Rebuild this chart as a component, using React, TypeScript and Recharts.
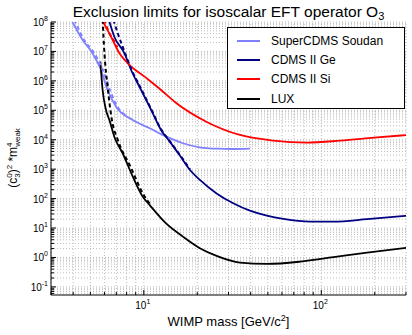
import React from 'react';
import { LineChart, Line, XAxis, YAxis, ReferenceLine } from 'recharts';

// ---- data (WIMP mass in GeV/c^2, limit on (c3^0)^2 * m_weak^4) ----
const superCdmsMass = [3.9, 4.52, 5.14, 5.7, 6.25, 6.98, 8.67, 10.8, 13.4, 16.6, 20.7, 25.7, 31.9, 39.6];
const superCdmsLimit = [1.2e8, 2.45e7, 8.65e6, 2.6e6, 4.9e5, 1.33e5, 4.69e4, 2.45e4, 1.27e4, 7.6e3, 5.5e3, 4.95e3, 4.85e3, 5.0e3];
const superCdmsAltMass = [4.06, 4.61, 5.26, 5.88, 6.44, 7.1, 8.0];
const superCdmsAltLimit = [1.2e8, 2.45e7, 8.65e6, 2.34e6, 4.9e5, 1.33e5, 6.5e4];

const cdmsGeMass = [6.35, 6.82, 7.78, 8.48, 9.66, 11.0, 12.5, 14.0, 16.0, 18.2, 20.7, 25.7, 31.9, 39.6, 49.3, 61.2, 86.6, 117, 181, 305];
const cdmsGeLimit = [1.2e8, 3.16e7, 8.65e6, 2.34e6, 4.9e5, 1.03e5, 2.15e4, 8.6e3, 2.85e3, 940, 430, 150, 69.5, 38.9, 26.3, 20.3, 16.5, 16.5, 19.9, 26.3];
const cdmsGeAltMass = [6.74, 7.13, 7.6, 8.48, 9.66, 11.0, 12.5, 14.0, 16.0, 18.2];
const cdmsGeAltLimit = [1.2e8, 4.13e7, 1.45e7, 2.6e6, 5.3e5, 1.1e5, 2.3e4, 9.0e3, 3.0e3, 980];

const cdmsSiMass = [5.8, 6.54, 7.29, 8.12, 10.1, 12.5, 14.9, 22.5, 34.8, 53.7, 82.9, 128, 198, 305];
const cdmsSiLimit = [1.2e8, 3.16e7, 8.65e6, 3.95e6, 1.39e6, 4.9e5, 1.96e5, 4.1e4, 1.45e4, 9.3e3, 7.95e3, 9.3e3, 1.17e4, 1.45e4];
const cdmsSiAltMass = [6.0, 6.3, 6.7, 7.1];
const cdmsSiAltLimit = [1.2e8, 5.0e7, 2.6e7, 1.4e7];

const luxMass = [5.69, 5.86, 6.12, 6.4, 6.82, 7.6, 8.67, 9.87, 10.8, 13.4, 16.6, 20.7, 25.7, 34.8, 49.3, 76, 117, 181, 305];
const luxLimit = [4.55e6, 4.9e5, 1.03e5, 4.69e4, 1.27e4, 3.47e3, 556, 116, 60, 14, 5.1, 2.06, 1.13, 0.667, 0.602, 0.72, 1.02, 1.46, 2.14];
const luxAltMass = [5.86, 6.0, 6.25, 6.61, 7.14, 8.41, 9.87, 10.8];
const luxAltLimit = [1.2e8, 8.65e6, 6.34e5, 4.69e4, 9.8e3, 1.22e3, 151, 66];

const seriesNames = ['SuperCDMS Soudan', 'CDMS II Ge', 'CDMS II Si', 'LUX'];
const seriesColors = ['#8080ff', '#000080', '#ff0000', '#000000'];

// ---- axes ----
const xDomain = [3, 300];
const yDomain = [0.053, 1e8];
const xTicks = [3, 4, 5, 6, 7, 8, 9, 10, 20, 30, 40, 50, 60, 70, 80, 90, 100, 200, 300];
const xLabelExponents = [1, 2];
const yDecadeExponents = [-2, -1, 0, 1, 2, 3, 4, 5, 6, 7, 8];
const yMultipliers = [1, 2, 3, 4, 5, 6, 7, 8, 9];
const yLabelExponents = [-1, 0, 1, 2, 3, 4, 5, 6, 7, 8];

const yTicks: number[] = [];
yDecadeExponents.forEach((e) =>
  yMultipliers.forEach((m) => {
    const v = m * Math.pow(10, e);
    if (v >= yDomain[0] * 0.999 && v <= yDomain[1] * 1.001) yTicks.push(v);
  })
);

const zip = (xs: number[], ys: number[]) => xs.map((x, i) => ({ x, y: ys[i] }));
const solidData = [
  zip(superCdmsMass, superCdmsLimit),
  zip(cdmsGeMass, cdmsGeLimit),
  zip(cdmsSiMass, cdmsSiLimit),
  zip(luxMass, luxLimit),
];
const dashedData = [
  zip(superCdmsAltMass, superCdmsAltLimit),
  zip(cdmsGeAltMass, cdmsGeAltLimit),
  zip(cdmsSiAltMass, cdmsSiAltLimit),
  zip(luxAltMass, luxAltLimit),
];

const FONT = '"Liberation Sans", Arial, Helvetica, sans-serif';
const W = 412;
const H = 335;

const decadeExp = (v: number) => {
  const l = Math.log10(v);
  const r = Math.round(l);
  return Math.abs(l - r) < 1e-6 ? r : null;
};

const BottomTick = (props: any) => {
  const { x, y, payload } = props;
  const e = decadeExp(payload.value);
  const len = e !== null ? 5 : 3;
  return (
    <g>
      <line x1={x} x2={x} y1={y} y2={y - len} stroke="#000" strokeWidth={1} />
      {e !== null && xLabelExponents.includes(e) && (
        <text x={x - 1} y={y + 14} textAnchor="middle" fontSize={10} fontFamily={FONT} fill="#000">
          10<tspan dy={-5} fontSize={7}>{e}</tspan>
        </text>
      )}
    </g>
  );
};

const TopTick = (props: any) => {
  const { x, y, payload } = props;
  const e = decadeExp(payload.value);
  const len = e !== null ? 5 : 3;
  return <line x1={x} x2={x} y1={y} y2={y + len} stroke="#000" strokeWidth={1} />;
};

const LeftTick = (props: any) => {
  const { x, y, payload } = props;
  const e = decadeExp(payload.value);
  const len = e !== null ? 5 : 3;
  return (
    <g>
      <line x1={x} x2={x + len} y1={y} y2={y} stroke="#000" strokeWidth={1} />
      {e !== null && yLabelExponents.includes(e) && (
        <text x={x - 3} y={y + 4} textAnchor="end" fontSize={10} fontFamily={FONT} fill="#000">
          10<tspan dy={-5} fontSize={7}>{e}</tspan>
        </text>
      )}
    </g>
  );
};

const RightTick = (props: any) => {
  const { x, y, payload } = props;
  const e = decadeExp(payload.value);
  const len = e !== null ? 5 : 3;
  return <line x1={x} x2={x - len} y1={y} y2={y} stroke="#000" strokeWidth={1} />;
};

export default function App() {
  return (
    <div style={{ position: 'absolute', left: 0, top: 0, width: W, height: H, background: '#fff' }}>
      <LineChart width={W} height={H} margin={{ top: 22, right: 6, bottom: 0, left: 0 }}>
        {xTicks.map((v) => (
          <ReferenceLine key={'gx' + v} x={v} stroke="#bdbdbd" strokeDasharray="1 2" strokeWidth={1} />
        ))}
        {yTicks.map((v) => (
          <ReferenceLine key={'gy' + v} y={v} stroke="#bdbdbd" strokeDasharray="1 2" strokeWidth={1} />
        ))}
        <XAxis
          dataKey="x"
          type="number"
          scale="log"
          domain={xDomain}
          allowDataOverflow
          ticks={xTicks}
          interval={0}
          tickSize={0}
          tickMargin={0}
          tick={BottomTick}
          axisLine={{ stroke: '#000' }}
          tickLine={false}
          height={40}
        />
        <XAxis
          xAxisId="top"
          orientation="top"
          dataKey="x"
          type="number"
          scale="log"
          domain={xDomain}
          allowDataOverflow
          ticks={xTicks}
          interval={0}
          tickSize={0}
          tickMargin={0}
          tick={TopTick}
          axisLine={{ stroke: '#000' }}
          tickLine={false}
          height={0}
        />
        <YAxis
          type="number"
          scale="log"
          domain={yDomain}
          allowDataOverflow
          ticks={yTicks}
          interval={0}
          tickSize={0}
          tickMargin={0}
          tick={LeftTick}
          axisLine={{ stroke: '#000' }}
          tickLine={false}
          width={51}
        />
        <YAxis
          yAxisId="right"
          orientation="right"
          type="number"
          scale="log"
          domain={yDomain}
          allowDataOverflow
          ticks={yTicks}
          interval={0}
          tickSize={0}
          tickMargin={0}
          tick={RightTick}
          axisLine={{ stroke: '#000' }}
          tickLine={false}
          width={0}
        />
        {solidData.map((d, i) => (
          <Line
            key={'s' + i}
            data={d}
            dataKey="y"
            type="monotone"
            stroke={seriesColors[i]}
            strokeWidth={1.8}
            dot={false}
            activeDot={false}
            isAnimationActive={false}
          />
        ))}
        {dashedData.map((d, i) => (
          <Line
            key={'d' + i}
            data={d}
            dataKey="y"
            type="monotone"
            stroke={seriesColors[i]}
            strokeWidth={2}
            strokeDasharray="4 3"
            dot={false}
            activeDot={false}
            isAnimationActive={false}
          />
        ))}
      </LineChart>

      <svg
        width={W}
        height={H}
        style={{ position: 'absolute', left: 0, top: 0, pointerEvents: 'none' }}
      >
        <text x={228.5} y={17} textAnchor="middle" fontSize={15.5} fontFamily={FONT} fill="#000">
          Exclusion limits for isoscalar EFT operator O<tspan dy={3} fontSize={11}>3</tspan>
        </text>
        <text x={228.5} y={326} textAnchor="middle" fontSize={13} fontFamily={FONT} fill="#000">
          WIMP mass [GeV/c<tspan dy={-5} fontSize={9}>2</tspan><tspan dy={5}>]</tspan>
        </text>
        <text
          x={17}
          y={158}
          transform="rotate(-90 17 158)"
          textAnchor="middle"
          fontSize={12}
          fontFamily={FONT}
          fill="#000"
        >
          (c<tspan dy={-5} fontSize={8}>0</tspan>
          <tspan dx={-4.4} dy={8} fontSize={8}>3</tspan>
          <tspan dy={-3}>)</tspan>
          <tspan dy={-5} fontSize={8}>2</tspan>
          <tspan dy={5}> *m</tspan>
          <tspan dy={-5} fontSize={8}>4</tspan>
          <tspan dx={-4.4} dy={8} fontSize={8}>weak</tspan>
        </text>
      </svg>

      <div
        style={{
          position: 'absolute',
          left: 227,
          top: 27,
          width: 176,
          height: 80,
          border: '1px solid #000',
          background: '#fff',
          fontFamily: FONT,
          fontSize: 12,
        }}
      >
        {seriesNames.map((name, i) => (
          <div
            key={name}
            style={{ position: 'absolute', left: 0, top: 5 + i * 19.2, height: 16, display: 'flex', alignItems: 'center' }}
          >
            <div style={{ marginLeft: 9, width: 23, height: 2, background: seriesColors[i] }} />
            <span style={{ marginLeft: 11, whiteSpace: 'nowrap', color: '#000' }}>{name}</span>
          </div>
        ))}
      </div>
    </div>
  );
}
